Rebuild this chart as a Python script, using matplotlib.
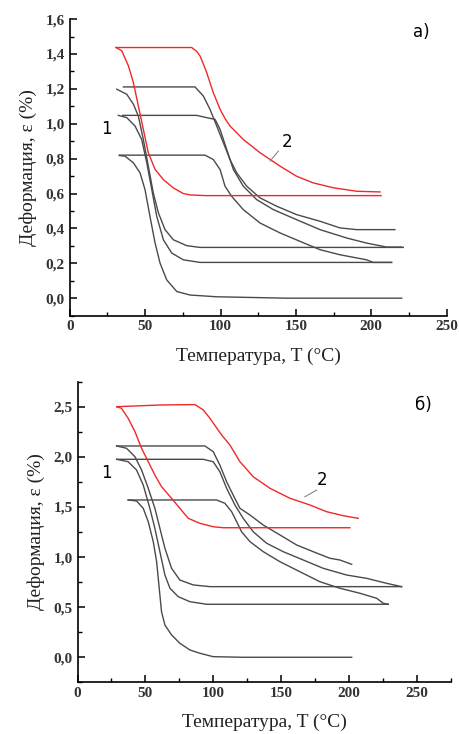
import matplotlib.pyplot as plt
import numpy as np
from matplotlib.ticker import FuncFormatter, MultipleLocator

# ---- panel a) ----
a_red_slow_x = [30.7, 80.9, 84.2, 86.4, 88.5, 90.8, 93.0, 95.2, 97.5, 99.7, 103.0, 106.3, 115.1,
                126.2, 139.5, 150.5, 161.5, 174.8, 190.3, 205.8]
a_red_slow_y = [1.437, 1.437, 1.415, 1.389, 1.345, 1.294, 1.236, 1.179, 1.130, 1.083, 1.030, 0.987, 0.910,
                0.834, 0.757, 0.699, 0.661, 0.633, 0.613, 0.609]
a_red_fast_x = [30.7, 34.5, 38.9, 42.2, 45.5, 48.8, 52.1, 56.6, 62.1, 68.7, 75.3, 79.8, 90.0, 206.5]
a_red_fast_y = [1.437, 1.418, 1.332, 1.236, 1.102, 0.968, 0.834, 0.738, 0.680, 0.632, 0.600, 0.592, 0.588, 0.588]

a_gray_slow = [
    ([35.6, 83.1, 88.6, 93.0, 97.5, 101.9, 106.3, 110.7, 117.4, 126.2, 137.3, 150.5, 166.0, 179.2,
      190.3, 215.7],
     [1.211, 1.211, 1.159, 1.083, 0.987, 0.891, 0.795, 0.719, 0.642, 0.575, 0.527, 0.479, 0.441, 0.403,
      0.393, 0.393]),
    ([35.1, 84.2, 90.8, 96.4, 99.7, 104.1, 108.5, 115.1, 124.0, 135.0, 150.5, 166.0, 183.7, 196.9,
      210.2, 220.2],
     [1.048, 1.048, 1.035, 1.025, 0.968, 0.853, 0.738, 0.642, 0.565, 0.508, 0.450, 0.393, 0.345, 0.316,
      0.293, 0.293]),
    ([32.9, 89.7, 95.2, 99.7, 103.0, 107.4, 115.1, 126.2, 139.5, 152.7, 166.0, 179.2, 196.9, 201.3,
      213.5],
     [0.820, 0.820, 0.795, 0.738, 0.642, 0.584, 0.508, 0.431, 0.374, 0.326, 0.278, 0.249, 0.220, 0.205,
      0.205]),
]
a_gray_fast = [
    ([31.2, 37.8, 42.2, 45.5, 48.8, 52.1, 55.4, 58.8, 63.2, 68.7, 77.6, 86.4, 221.3],
     [1.198, 1.169, 1.112, 1.044, 0.910, 0.757, 0.604, 0.489, 0.393, 0.335, 0.301, 0.291, 0.291]),
    ([32.2, 37.8, 43.3, 47.7, 51.1, 54.4, 57.7, 62.1, 67.6, 75.3, 86.4, 213.5],
     [1.048, 1.035, 0.987, 0.910, 0.776, 0.623, 0.469, 0.335, 0.259, 0.220, 0.205, 0.205]),
    ([32.9, 36.7, 42.2, 46.6, 49.9, 53.2, 56.6, 59.9, 64.3, 71.0, 79.8, 97.5, 143.9, 220.2],
     [0.818, 0.814, 0.776, 0.719, 0.623, 0.469, 0.316, 0.201, 0.105, 0.038, 0.018, 0.008, 0.0, 0.0]),
]

# ---- panel б) ----
b_red_slow_x = [28.8, 60.7, 86.5, 92.6, 97.6, 102.5, 106.2, 112.3, 119.7, 129.5, 141.8, 156.6,
                171.3, 183.6, 195.9, 206.9]
b_red_slow_y = [2.501, 2.518, 2.522, 2.470, 2.385, 2.290, 2.219, 2.119, 1.952, 1.802, 1.687, 1.587,
                1.520, 1.453, 1.413, 1.387]
b_red_fast_x = [28.8, 32.4, 37.3, 42.3, 47.2, 52.1, 57.0, 61.9, 69.3, 75.4, 81.6, 90.2, 100.0, 107.4, 200.8]
b_red_fast_y = [2.501, 2.485, 2.385, 2.252, 2.086, 1.952, 1.819, 1.703, 1.587, 1.487, 1.387, 1.337, 1.303,
                1.293, 1.293]

b_gray_slow = [
    ([28.8, 93.9, 100.0, 104.9, 109.9, 114.7, 119.7, 127.1, 136.9, 149.2, 161.5, 173.7, 186.1, 193.4,
      202.1],
     [2.109, 2.109, 2.052, 1.919, 1.752, 1.620, 1.487, 1.420, 1.320, 1.221, 1.121, 1.054, 0.988, 0.971,
      0.928]),
    ([28.8, 92.6, 100.0, 104.9, 109.9, 116.0, 122.1, 129.5, 139.4, 151.6, 166.4, 181.1, 198.4, 213.1,
      227.9, 238.9],
     [1.976, 1.976, 1.952, 1.852, 1.687, 1.520, 1.387, 1.253, 1.138, 1.054, 0.971, 0.888, 0.821, 0.788,
      0.738, 0.705]),
    ([37.3, 102.5, 108.6, 113.6, 117.3, 120.9, 127.1, 136.9, 149.2, 163.9, 178.7, 193.4, 208.2, 220.5,
      225.4, 229.0],
     [1.570, 1.570, 1.537, 1.453, 1.353, 1.253, 1.154, 1.054, 0.954, 0.854, 0.754, 0.689, 0.639, 0.589,
      0.539, 0.529]),
]
b_gray_fast = [
    ([28.8, 36.1, 42.3, 47.2, 52.1, 57.0, 60.7, 64.4, 69.3, 75.4, 85.3, 97.6, 238.9],
     [2.109, 2.086, 2.002, 1.869, 1.687, 1.487, 1.287, 1.088, 0.888, 0.771, 0.722, 0.705, 0.705]),
    ([28.8, 37.3, 43.5, 48.4, 53.3, 57.0, 60.7, 64.4, 68.1, 74.2, 82.8, 95.1, 229.0],
     [1.976, 1.952, 1.869, 1.720, 1.487, 1.287, 1.054, 0.821, 0.689, 0.605, 0.555, 0.529, 0.529]),
    ([37.3, 43.5, 48.4, 52.1, 55.8, 58.3, 60.2, 61.9, 64.4, 69.3, 75.4, 82.8, 90.2, 100.0, 122.2, 202.1],
     [1.570, 1.560, 1.487, 1.353, 1.154, 0.954, 0.689, 0.455, 0.322, 0.223, 0.140, 0.073, 0.040, 0.006,
      0.0, 0.0]),
]

RED = '#f02828'
GRAY = '#4a4a4a'
SERIF = 'Liberation Serif'

comma = FuncFormatter(lambda v, p: ('%.1f' % v).replace('.', ','))


def style_axes(ax, xmax, xstep, ymin, ymax, ystep, yfmt):
    ax.set_xlim(0, xmax)
    ax.set_ylim(ymin, ymax)
    ax.xaxis.set_major_locator(MultipleLocator(xstep))
    ax.xaxis.set_minor_locator(MultipleLocator(xstep / 2))
    ax.yaxis.set_major_locator(MultipleLocator(ystep))
    ax.yaxis.set_minor_locator(MultipleLocator(ystep / 2))
    ax.yaxis.set_major_formatter(yfmt)
    for s in ['top', 'right']:
        ax.spines[s].set_visible(False)
    for s in ['left', 'bottom']:
        ax.spines[s].set_linewidth(1.2)
    ax.tick_params(which='major', direction='in', length=5, width=1.1, labelsize=11)
    ax.tick_params(which='minor', direction='in', length=3, width=1.0)
    for lab in ax.get_xticklabels() + ax.get_yticklabels():
        lab.set_family(SERIF)
        lab.set_fontweight('bold')
        lab.set_color('#333333')
    ax.set_xlabel('Температура, T (°C)', family=SERIF, fontsize=14, color='#222222', labelpad=10)
    ax.set_ylabel('Деформация, ε (%)', family=SERIF, fontsize=14, color='#222222', labelpad=6)


fig = plt.figure(figsize=(4.59, 7.34), dpi=100)
ax1 = fig.add_axes([0.152, 0.570, 0.821, 0.404])
ax2 = fig.add_axes([0.169, 0.0704, 0.8126, 0.4095])

# panel a
for x, y in a_gray_slow + a_gray_fast:
    ax1.plot(x, y, color=GRAY, lw=1.0)
ax1.plot(a_red_slow_x, a_red_slow_y, color=RED, lw=1.0)
ax1.plot(a_red_fast_x, a_red_fast_y, color=RED, lw=1.0)
style_axes(ax1, 250, 50, -0.1, 1.6, 0.2, comma)
ax1.text(24.5, 0.968, '1', fontsize=12, ha='center', va='center')
ax1.text(144, 0.893, '2', fontsize=12, ha='center', va='center')
ax1.plot([132.9, 138.4], [0.786, 0.843], color='#888888', lw=0.8)
ax1.text(233.4, 1.524, 'а)', fontsize=12, ha='center', va='center')

# panel b
for x, y in b_gray_slow + b_gray_fast:
    ax2.plot(x, y, color=GRAY, lw=1.0)
ax2.plot(b_red_slow_x, b_red_slow_y, color=RED, lw=1.0)
ax2.plot(b_red_fast_x, b_red_fast_y, color=RED, lw=1.0)
style_axes(ax2, 275, 50, -0.25, 2.75, 0.5, comma)
ax2.text(21.4, 1.835, '1', fontsize=12, ha='center', va='center')
ax2.text(179.9, 1.769, '2', fontsize=12, ha='center', va='center')
ax2.plot([167.6, 176.3], [1.602, 1.669], color='#888888', lw=0.8)
ax2.text(254.9, 2.517, 'б)', fontsize=12, ha='center', va='center')

fig.savefig('out.png', dpi=100)
